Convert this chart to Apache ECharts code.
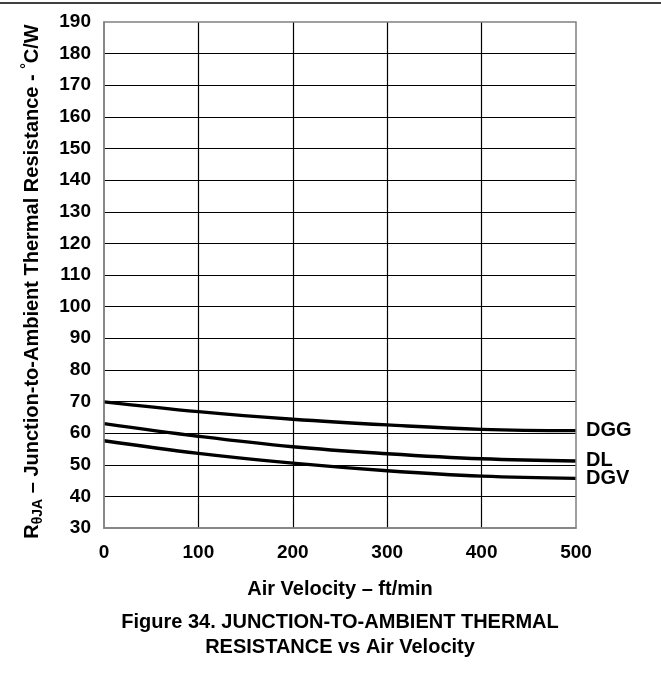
<!DOCTYPE html>
<html>
<head>
<meta charset="utf-8">
<script src="https://cdn.jsdelivr.net/npm/echarts@6/dist/echarts.min.js"></script>
<style>html,body{margin:0;padding:0;background:#fff;}#c{width:661px;height:682px;}</style>
</head>
<body>
<div id="c"></div>
<script>
const velocity = [0, 100, 200, 300, 400, 500];
const dgg = [69.9, 66.8, 64.4, 62.6, 61.2, 60.8];
const dl  = [63.0, 59.0, 55.7, 53.5, 51.9, 51.2];
const dgv = [57.6, 53.6, 50.5, 48.1, 46.4, 45.7];
const seriesNames = ['DGG', 'DL', 'DGV'];
const seriesValues = [dgg, dl, dgv];

const FONT = '"Liberation Sans", Arial, sans-serif';
const chart = echarts.init(document.getElementById('c'));

const series = seriesValues.map((vals, i) => ({
  name: seriesNames[i],
  type: 'line',
  smooth: 0.4,
  symbol: 'none',
  data: velocity.map((v, j) => [v, vals[j]]),
  lineStyle: { color: '#000', width: 3.4 },
  endLabel: {
    show: true,
    formatter: '{a}',
    distance: 10,
    color: '#000',
    fontFamily: FONT,
    fontWeight: 'bold',
    fontSize: 20
  },
  z: 5
}));

chart.setOption({
  animation: false,
  backgroundColor: '#fff',
  grid: { left: 104, right: 85, top: 22, bottom: 154, show: false },
  title: {
    text: 'Figure 34. JUNCTION-TO-AMBIENT THERMAL\nRESISTANCE vs Air Velocity',
    left: 340,
    top: 610,
    textAlign: 'center',
    padding: 0,
    textStyle: { fontFamily: FONT, fontWeight: 'bold', fontSize: 20, lineHeight: 25, color: '#000' }
  },
  xAxis: {
    type: 'value',
    min: 0, max: 500, interval: 100,
    name: 'Air Velocity – ft/min',
    nameLocation: 'middle',
    nameGap: 51,
    nameTextStyle: { fontFamily: FONT, fontWeight: 'bold', fontSize: 20, color: '#000' },
    axisLine: { show: true, lineStyle: { color: '#808080', width: 1.5 } },
    axisTick: { show: false },
    axisLabel: { margin: 15, fontFamily: FONT, fontWeight: 'bold', fontSize: 19, color: '#000' },
    splitLine: { show: true, showMinLine: false, showMaxLine: false, lineStyle: { color: '#000', width: 1.2 } }
  },
  yAxis: {
    type: 'value',
    min: 30, max: 190, interval: 10,
    name: 'R{sub|θJA} – Junction-to-Ambient Thermal Resistance - {sup|°}C/W',
    nameLocation: 'middle',
    nameGap: 59,
    nameTextStyle: {
      fontFamily: FONT, fontWeight: 'bold', fontSize: 20, color: '#000',
      padding: [0, 13, 0, 0],
      rich: {
        sub: { fontFamily: FONT, fontWeight: 'bold', fontSize: 14, color: '#000', verticalAlign: 'top', padding: [11, 0, 0, 0] },
        sup: { fontFamily: FONT, fontWeight: 'bold', fontSize: 14, color: '#000', verticalAlign: 'top', padding: [0, 0, 0, 0] }
      }
    },
    axisLine: { show: true, lineStyle: { color: '#808080', width: 1.5 } },
    axisTick: { show: false },
    axisLabel: { margin: 13, fontFamily: FONT, fontWeight: 'bold', fontSize: 19, color: '#000' },
    splitLine: { show: true, showMinLine: false, showMaxLine: false, lineStyle: { color: '#000', width: 1.2 } }
  },
  graphic: [
    { type: 'line', shape: { x1: 0, y1: 3, x2: 661, y2: 3 }, style: { stroke: '#000', lineWidth: 1.5 }, silent: true },
    { type: 'rect', shape: { x: 104, y: 22, width: 472, height: 506 }, style: { fill: 'none', stroke: '#808080', lineWidth: 1.5 }, silent: true, z: 10 }
  ],
  series: series
});
</script>
</body>
</html>
